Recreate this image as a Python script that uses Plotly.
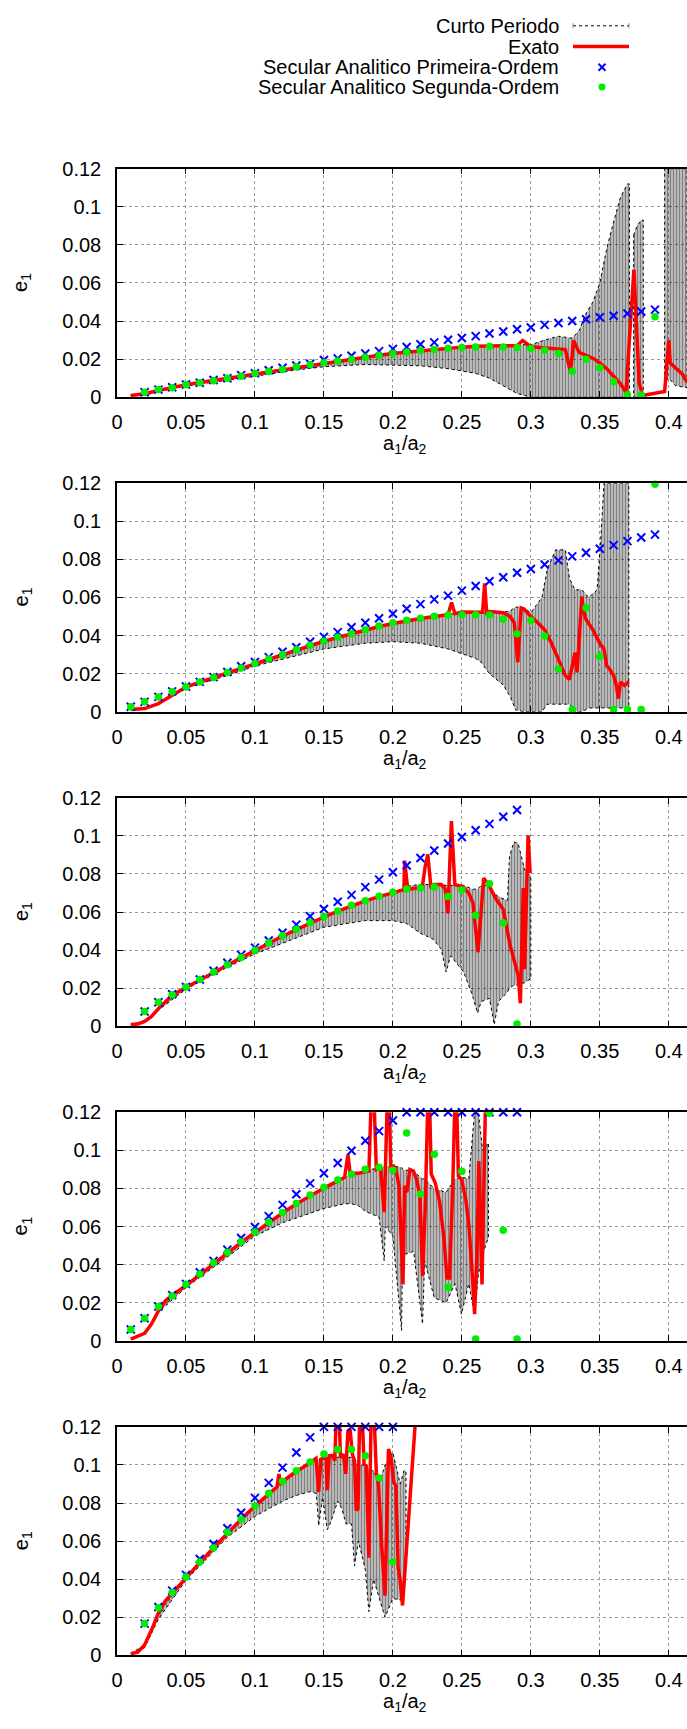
import plotly.graph_objects as go

# ---------------------------------------------------------------------------
# Data: e1 versus a1/a2 for five configurations
# ---------------------------------------------------------------------------

# Panel 1
P1_SEC_X = [0.02, 0.03, 0.04, 0.05, 0.06, 0.07, 0.08, 0.09, 0.10, 0.11, 0.12, 0.13, 0.14,
            0.15, 0.16, 0.17, 0.18, 0.19, 0.20, 0.21, 0.22, 0.23, 0.24, 0.25, 0.26, 0.27,
            0.28, 0.29, 0.30, 0.31, 0.32, 0.33, 0.34, 0.35, 0.36, 0.37, 0.38, 0.39]
P1_FIRST = [0.0026, 0.0040, 0.0052, 0.0067, 0.0076, 0.0090, 0.0100, 0.0116, 0.0126, 0.0142,
            0.0155, 0.0167, 0.0176, 0.0195, 0.0204, 0.0218, 0.0230, 0.0242, 0.0254, 0.0264,
            0.0278, 0.0288, 0.0302, 0.0311, 0.0321, 0.0335, 0.0345, 0.0357, 0.0366, 0.0380,
            0.0390, 0.0400, 0.0409, 0.0420, 0.0428, 0.0440, 0.0450, 0.0460]
P1_SECOND = [0.0026, 0.0040, 0.0050, 0.0066, 0.0076, 0.0086, 0.0100, 0.0110, 0.0124, 0.0135,
             0.0145, 0.0160, 0.0171, 0.0181, 0.0190, 0.0200, 0.0210, 0.0220, 0.0230, 0.0237,
             0.0245, 0.0250, 0.0257, 0.0261, 0.0264, 0.0266, 0.0264, 0.0261, 0.0256, 0.0247,
             0.0230, 0.0136, 0.0200, 0.0155, 0.0081, 0.0012, 0.0012, 0.0423]
P1_EXATO_X = [0.010, 0.020, 0.030, 0.040, 0.050, 0.060, 0.070, 0.080, 0.090, 0.100, 0.110,
              0.120, 0.130, 0.140, 0.150, 0.160, 0.170, 0.180, 0.190, 0.200, 0.210, 0.220,
              0.230, 0.240, 0.250, 0.260, 0.270, 0.280, 0.290, 0.294, 0.300, 0.310, 0.320,
              0.325, 0.3288, 0.331, 0.335, 0.340, 0.345, 0.350, 0.355, 0.360, 0.365, 0.369,
              0.3747, 0.3785, 0.381, 0.397, 0.400, 0.401, 0.405, 0.410, 0.413]
P1_EXATO_Y = [0.0009, 0.0018, 0.0035, 0.0052, 0.0066, 0.0077, 0.0088, 0.0100, 0.0112, 0.0124,
              0.0135, 0.0146, 0.0158, 0.0169, 0.0180, 0.0190, 0.0200, 0.0212, 0.0220, 0.0230,
              0.0237, 0.0245, 0.0252, 0.0258, 0.0263, 0.0267, 0.0270, 0.0270, 0.0270, 0.0298,
              0.0265, 0.0260, 0.0255, 0.0250, 0.0130, 0.0298, 0.0235, 0.0220, 0.0205, 0.0180,
              0.0150, 0.0110, 0.0070, 0.0026, 0.0670, 0.0078, 0.0009, 0.0030, 0.0300, 0.0180,
              0.0155, 0.0120, 0.0080]
P1_CP_X = [0.010, 0.020, 0.030, 0.050, 0.080, 0.100, 0.130, 0.150, 0.180, 0.200, 0.220, 0.240,
           0.260, 0.270, 0.280, 0.290, 0.300, 0.310, 0.320, 0.330, 0.335, 0.340, 0.345, 0.350,
           0.355, 0.360, 0.365, 0.370, 0.3715, None,
           0.3745, 0.3770, 0.3800, 0.3815, None,
           0.397, 0.400, 0.405, 0.4132]
P1_CP_LO = [0.0008, 0.0010, 0.0030, 0.0058, 0.0090, 0.0110, 0.0143, 0.0160, 0.0172, 0.0170,
            0.0165, 0.0150, 0.0125, 0.0100, 0.0060, 0.0020, 0.0, 0.0, 0.0, 0.0, 0.0, 0.0, 0.0,
            0.0, 0.0, 0.0, 0.0, 0.0, 0.0, None,
            0.0, 0.0, 0.0, 0.0, None,
            0.008, 0.010, 0.006, 0.005]
P1_CP_HI = [0.0012, 0.0018, 0.0038, 0.0068, 0.0102, 0.0126, 0.0160, 0.0182, 0.0212, 0.0232,
            0.0248, 0.0260, 0.0268, 0.0272, 0.0274, 0.0276, 0.0275, 0.0300, 0.0320, 0.0310,
            0.0350, 0.0440, 0.0500, 0.0600, 0.0780, 0.0920, 0.1050, 0.1120, 0.1120, None,
            0.085, 0.090, 0.093, 0.093, None,
            0.12, 0.12, 0.12, 0.12]

# Panel 2
P2_SEC_X = [0.01, 0.02, 0.03, 0.04, 0.05, 0.06, 0.07, 0.08, 0.09, 0.10, 0.11, 0.12, 0.13,
            0.14, 0.15, 0.16, 0.17, 0.18, 0.19, 0.20, 0.21, 0.22, 0.23, 0.24, 0.25, 0.26,
            0.27, 0.28, 0.29, 0.30, 0.31, 0.32, 0.33, 0.34, 0.35, 0.36, 0.37, 0.38, 0.39]
P2_FIRST = [0.0026, 0.0052, 0.0078, 0.0107, 0.0133, 0.0157, 0.0182, 0.0209, 0.0239, 0.0261,
            0.0287, 0.0315, 0.0339, 0.0368, 0.0393, 0.0418, 0.0444, 0.0467, 0.0491, 0.0515,
            0.0541, 0.0565, 0.0590, 0.0610, 0.0636, 0.0660, 0.0685, 0.0706, 0.0730, 0.0750,
            0.0773, 0.0795, 0.0816, 0.0835, 0.0856, 0.0875, 0.0896, 0.0915, 0.0930]
P2_SECOND = [0.0026, 0.0052, 0.0078, 0.0105, 0.0130, 0.0156, 0.0180, 0.0206, 0.0230, 0.0254,
             0.0278, 0.0301, 0.0325, 0.0349, 0.0370, 0.0391, 0.0410, 0.0431, 0.0450, 0.0467,
             0.0481, 0.0491, 0.0501, 0.0508, 0.0510, 0.0510, 0.0508, 0.0486, 0.0410, 0.0479,
             0.0398, 0.0225, 0.0012, 0.0546, 0.0290, 0.0012, 0.0012, 0.0012, 0.1195]
P2_EXATO_X = [0.010, 0.020, 0.030, 0.040, 0.050, 0.060, 0.070, 0.080, 0.090, 0.100, 0.110,
              0.120, 0.130, 0.140, 0.150, 0.160, 0.170, 0.180, 0.190, 0.200, 0.210, 0.220,
              0.230, 0.240, 0.2425, 0.245, 0.250, 0.260, 0.265, 0.2665, 0.268, 0.270, 0.280,
              0.285, 0.288, 0.2905, 0.293, 0.295, 0.300, 0.305, 0.310, 0.315, 0.320, 0.325,
              0.328, 0.332, 0.3335, 0.337, 0.338, 0.340, 0.345, 0.350, 0.353, 0.355, 0.357,
              0.360, 0.362, 0.3635, 0.365, 0.368, 0.371]
P2_EXATO_Y = [0.0012, 0.0017, 0.0043, 0.0086, 0.0130, 0.0156, 0.0178, 0.0204, 0.0228, 0.0252,
              0.0277, 0.0300, 0.0325, 0.0348, 0.0370, 0.0390, 0.0410, 0.0430, 0.0448, 0.0463,
              0.0477, 0.0490, 0.0500, 0.0510, 0.0574, 0.0515, 0.0524, 0.0524, 0.0522, 0.0674,
              0.0520, 0.0526, 0.0520, 0.0500, 0.0467, 0.0260, 0.0545, 0.0540, 0.0500, 0.0467,
              0.0430, 0.0360, 0.0277, 0.0190, 0.0170, 0.0310, 0.0207, 0.0605, 0.0536, 0.0484,
              0.0430, 0.0360, 0.0330, 0.0242, 0.0225, 0.0190, 0.0138, 0.0069, 0.0156, 0.0138,
              0.0159]
P2_CP_X = [0.010, 0.020, 0.030, 0.040, 0.050, 0.080, 0.100, 0.150, 0.180, 0.200, 0.220, 0.240,
           0.260, 0.264, 0.270, 0.275, 0.280, 0.285, 0.289, 0.295, 0.300, 0.308, 0.312, 0.318,
           0.325, 0.328, 0.332, 0.337, 0.342, 0.348, 0.351, 0.353, 0.371]
P2_CP_LO = [0.0010, 0.0015, 0.0040, 0.0082, 0.0125, 0.0190, 0.0240, 0.0330, 0.0360, 0.0368,
            0.0360, 0.0330, 0.0280, 0.0260, 0.0200, 0.0170, 0.0140, 0.0080, 0.0010, 0.0, 0.0,
            0.0, 0.0040, 0.0040, 0.0040, 0.0040, 0.0, 0.0, 0.0020, 0.0020, 0.0020, 0.0020,
            0.0020]
P2_CP_HI = [0.0014, 0.0020, 0.0045, 0.0090, 0.0132, 0.0206, 0.0254, 0.0372, 0.0432, 0.0465,
            0.0492, 0.0512, 0.0524, 0.0524, 0.0526, 0.0525, 0.0522, 0.0530, 0.0550, 0.0545,
            0.0520, 0.0600, 0.0750, 0.0850, 0.0850, 0.0700, 0.0640, 0.0640, 0.0600, 0.0640,
            0.0940, 0.1200, 0.1200]

# Panel 3
P3_SEC_X = [0.02, 0.03, 0.04, 0.05, 0.06, 0.07, 0.08, 0.09, 0.10, 0.11, 0.12, 0.13, 0.14,
            0.15, 0.16, 0.17, 0.18, 0.19, 0.20, 0.21, 0.22, 0.23, 0.24, 0.25, 0.26, 0.27,
            0.28, 0.29]
P3_FIRST = [0.0078, 0.0126, 0.0168, 0.0206, 0.0246, 0.0292, 0.0334, 0.0375, 0.0413, 0.0451,
            0.0491, 0.0534, 0.0578, 0.0616, 0.0654, 0.0690, 0.0731, 0.0770, 0.0809, 0.0844,
            0.0884, 0.0923, 0.0960, 0.0994, 0.1029, 0.1063, 0.1100, 0.1136]
P3_SECOND = [0.0078, 0.0126, 0.0166, 0.0206, 0.0246, 0.0285, 0.0323, 0.0361, 0.0399, 0.0439,
             0.0476, 0.0510, 0.0545, 0.0576, 0.0605, 0.0635, 0.0659, 0.0683, 0.0704, 0.0721,
             0.0726, 0.0731, 0.0681, 0.0716, 0.0583, 0.0749, 0.0543, 0.0012]
P3_EXATO_X = [0.010, 0.015, 0.020, 0.025, 0.030, 0.035, 0.040, 0.050, 0.060, 0.070, 0.080,
              0.090, 0.100, 0.110, 0.120, 0.130, 0.140, 0.150, 0.160, 0.170, 0.180, 0.190,
              0.200, 0.205, 0.208, 0.2085, 0.2108, 0.215, 0.2212, 0.2234, 0.2253, 0.2275,
              0.230, 0.235, 0.238, 0.2399, 0.2424, 0.2449, 0.250, 0.255, 0.258, 0.2617,
              0.2658, 0.270, 0.275, 0.280, 0.285, 0.2908, 0.2924, 0.2945, 0.2955, 0.298,
              0.2995]
P3_EXATO_Y = [0.0009, 0.0012, 0.0026, 0.0052, 0.0092, 0.0130, 0.0164, 0.0204, 0.0244, 0.0284,
              0.0322, 0.0360, 0.0398, 0.0437, 0.0474, 0.0508, 0.0543, 0.0574, 0.0605, 0.0633,
              0.0659, 0.0681, 0.0700, 0.0714, 0.0718, 0.0870, 0.0718, 0.0723, 0.0726, 0.0839,
              0.0903, 0.0735, 0.0744, 0.0744, 0.0720, 0.0593, 0.1077, 0.0744, 0.0735, 0.0700,
              0.0648, 0.0389, 0.0778, 0.0735, 0.0666, 0.0614, 0.0424, 0.0268, 0.0121, 0.0726,
              0.0300, 0.1003, 0.0804]
P3_CP_X = [0.010, 0.020, 0.030, 0.050, 0.080, 0.100, 0.150, 0.180, 0.200, 0.210, 0.2196,
           0.229, 0.235, 0.2386, 0.2418, 0.2513, 0.2576, 0.2614, 0.264, 0.270, 0.2734,
           0.2766, 0.283, 0.2845, 0.2877, 0.2908, 0.2956, 0.300]
P3_CP_LO = [0.0008, 0.0022, 0.0085, 0.0195, 0.0310, 0.0380, 0.0520, 0.0555, 0.0555, 0.0540,
            0.0490, 0.0458, 0.0406, 0.0285, 0.0370, 0.0285, 0.0164, 0.0069, 0.0130, 0.0147,
            0.0009, 0.0130, 0.0180, 0.0200, 0.0216, 0.0216, 0.0230, 0.0250]
P3_CP_HI = [0.0010, 0.0028, 0.0092, 0.0204, 0.0322, 0.0398, 0.0574, 0.0659, 0.0700, 0.0735,
            0.0745, 0.0745, 0.0744, 0.0740, 0.0740, 0.0740, 0.0720, 0.0720, 0.0740, 0.0740,
            0.0700, 0.0680, 0.0660, 0.0890, 0.0968, 0.0960, 0.0820, 0.0787]

# Panel 4
P4_SEC_X = [0.01, 0.02, 0.03, 0.04, 0.05, 0.06, 0.07, 0.08, 0.09, 0.10, 0.11, 0.12, 0.13,
            0.14, 0.15, 0.16, 0.17, 0.18, 0.19, 0.20, 0.21, 0.22, 0.23, 0.24, 0.25, 0.26,
            0.27, 0.28, 0.29]
P4_FIRST = [0.0060, 0.0119, 0.0180, 0.0240, 0.0299, 0.0360, 0.0420, 0.0479, 0.0540, 0.0598,
            0.0655, 0.0714, 0.0770, 0.0827, 0.0880, 0.0934, 0.0998, 0.1051, 0.1101, 0.1157,
            0.1200, 0.1200, 0.1200, 0.1200, 0.1200, 0.1200, 0.1200, 0.1200, 0.1200]
P4_SECOND = [0.0060, 0.0119, 0.0180, 0.0235, 0.0296, 0.0351, 0.0410, 0.0465, 0.0520, 0.0571,
             0.0624, 0.0674, 0.0721, 0.0766, 0.0806, 0.0844, 0.0875, 0.0901, 0.0911, 0.0896,
             0.1091, 0.0771, 0.0980, 0.0282, 0.0890, 0.0010, 0.1195, 0.0581, 0.0010]
P4_EXATO_X = [0.010, 0.020, 0.025, 0.030, 0.035, 0.040, 0.050, 0.060, 0.070, 0.080, 0.090,
              0.100, 0.110, 0.120, 0.130, 0.140, 0.150, 0.160, 0.165, 0.1674, 0.169, 0.175,
              0.1826, 0.1842, 0.1864, 0.188, 0.191, 0.1937, 0.1959, 0.1975, 0.1984, 0.2006,
              0.2022, 0.2044, 0.2063, 0.2073, 0.2085, 0.2101, 0.2123, 0.2149, 0.2171, 0.2196,
              0.2215, 0.2234, 0.2253, 0.2266, 0.2278, 0.2307, 0.2339, 0.2370, 0.2392, 0.2411,
              0.2434, 0.2449, 0.2462, 0.2475, 0.2497, 0.2528, 0.2551, 0.2566, 0.2582, 0.2592,
              0.2608, 0.2623, 0.2646, 0.2671, 0.2693]
P4_EXATO_Y = [0.0009, 0.0040, 0.0088, 0.0157, 0.0209, 0.0240, 0.0290, 0.0348, 0.0406, 0.0462,
              0.0517, 0.0569, 0.0621, 0.0671, 0.0719, 0.0763, 0.0802, 0.0840, 0.0858, 0.0979,
              0.0880, 0.0880, 0.0892, 0.1250, 0.1250, 0.0900, 0.0910, 0.0676, 0.1250, 0.1250,
              0.0918, 0.0918, 0.0900, 0.0814, 0.0434, 0.0296, 0.0814, 0.0780, 0.0900, 0.0892,
              0.0849, 0.0763, 0.0339, 0.0692, 0.1250, 0.1250, 0.0875, 0.0830, 0.0728, 0.0538,
              0.0330, 0.0330, 0.0814, 0.1250, 0.1250, 0.0866, 0.0849, 0.0745, 0.0607, 0.0469,
              0.0278, 0.0140, 0.0420, 0.0944, 0.0296, 0.1250, 0.1250]
P4_CP_X = [0.010, 0.020, 0.030, 0.050, 0.080, 0.100, 0.120, 0.150, 0.165, 0.170, 0.175, 0.180,
           0.190, 0.1937, 0.1945, 0.200, 0.2063, 0.207, 0.215, 0.2215, 0.223, 0.230, 0.2386,
           0.245, 0.2497, 0.255, 0.2592, 0.262, 0.265, 0.2693]
P4_CP_LO = [0.0008, 0.0035, 0.0150, 0.0280, 0.0440, 0.0550, 0.0620, 0.0695, 0.0720, 0.0720,
            0.0710, 0.0680, 0.0650, 0.0420, 0.0600, 0.0550, 0.0054, 0.0450, 0.0470, 0.0088,
            0.0420, 0.0226, 0.0200, 0.0300, 0.0140, 0.0300, 0.0140, 0.0350, 0.0450, 0.0546]
P4_CP_HI = [0.0010, 0.0042, 0.0160, 0.0292, 0.0462, 0.0569, 0.0671, 0.0802, 0.0858, 0.0880,
            0.0880, 0.0892, 0.0910, 0.0910, 0.0915, 0.0918, 0.0910, 0.0900, 0.0890, 0.0850,
            0.0850, 0.0800, 0.0780, 0.0850, 0.0860, 0.0850, 0.1200, 0.1200, 0.1000, 0.1040]

# Panel 5
P5_SEC_X = [0.02, 0.03, 0.04, 0.05, 0.06, 0.07, 0.08, 0.09, 0.10, 0.11, 0.12, 0.13, 0.14,
            0.15, 0.16, 0.17, 0.18, 0.19, 0.20]
P5_FIRST = [0.0167, 0.0254, 0.0340, 0.0423, 0.0506, 0.0585, 0.0668, 0.0749, 0.0827, 0.0906,
            0.0986, 0.1065, 0.1145, 0.1200, 0.1200, 0.1200, 0.1200, 0.1200, 0.1200]
P5_SECOND = [0.0167, 0.0250, 0.0330, 0.0411, 0.0490, 0.0565, 0.0646, 0.0715, 0.0786, 0.0851,
             0.0915, 0.0970, 0.1015, 0.1057, 0.1081, 0.1081, 0.1048, 0.0931, 0.0492]
P5_EXATO_X = [0.010, 0.015, 0.020, 0.025, 0.030, 0.035, 0.040, 0.050, 0.060, 0.070, 0.080,
              0.090, 0.100, 0.110, 0.1160, 0.1174, 0.1185, 0.120, 0.125, 0.130, 0.135, 0.140,
              0.1443, 0.1462, 0.1478, 0.150, 0.1516, 0.1525, 0.1538, 0.1563, 0.1579, 0.1589,
              0.1611, 0.1620, 0.1642, 0.1658, 0.1674, 0.1690, 0.1706, 0.1722, 0.1734, 0.1747,
              0.1759, 0.1778, 0.1791, 0.1807, 0.1826, 0.1842, 0.1864, 0.1880, 0.1896, 0.1918,
              0.1943, 0.1968, 0.1984, 0.2006, 0.2022, 0.2038, 0.2053, 0.2070, 0.2165]
P5_EXATO_Y = [0.0009, 0.0017, 0.0055, 0.0133, 0.0223, 0.0285, 0.0326, 0.0409, 0.0487, 0.0565,
              0.0642, 0.0715, 0.0784, 0.0850, 0.0885, 0.0953, 0.0895, 0.0913, 0.0940, 0.0967,
              0.0988, 0.1013, 0.1034, 0.0858, 0.1030, 0.1039, 0.1030, 0.0867, 0.1048, 0.1050,
              0.1022, 0.1250, 0.1250, 0.1039, 0.1057, 0.0953, 0.1177, 0.1186, 0.1057, 0.1022,
              0.0763, 0.0770, 0.1250, 0.1250, 0.1005, 0.0995, 0.0513, 0.1250, 0.1250, 0.0962,
              0.0893, 0.0582, 0.0314, 0.1083, 0.1048, 0.0910, 0.0890, 0.0461, 0.0392, 0.0262,
              0.1250]
P5_CP_X = [0.010, 0.020, 0.030, 0.050, 0.080, 0.100, 0.120, 0.130, 0.140, 0.1445, 0.1462,
           0.149, 0.1525, 0.155, 0.160, 0.163, 0.166, 0.170, 0.1722, 0.175, 0.180, 0.1826,
           0.186, 0.190, 0.1943, 0.200, 0.2053, 0.208, 0.2095]
P5_CP_LO = [0.0008, 0.0040, 0.0190, 0.0395, 0.0620, 0.0730, 0.0810, 0.0840, 0.0860, 0.0850,
            0.0680, 0.0830, 0.0660, 0.0700, 0.0810, 0.0770, 0.0690, 0.0690, 0.0470, 0.0600,
            0.0450, 0.0230, 0.0400, 0.0300, 0.0200, 0.0300, 0.0290, 0.0400, 0.0500]
P5_CP_HI = [0.0010, 0.0055, 0.0223, 0.0409, 0.0642, 0.0784, 0.0913, 0.0967, 0.1013, 0.1034,
            0.1030, 0.1039, 0.1040, 0.1045, 0.1040, 0.1040, 0.1040, 0.1040, 0.1000, 0.1000,
            0.1000, 0.0970, 0.0970, 0.0900, 0.1000, 0.1065, 0.0900, 0.0970, 0.0970]

X_TICKS = [0, 0.05, 0.1, 0.15, 0.2, 0.25, 0.3, 0.35, 0.4]
Y_TICKS = [0, 0.02, 0.04, 0.06, 0.08, 0.1, 0.12]
LEGEND_NAMES = ["Curto Periodo", "Exato", "Secular Analitico Primeira-Ordem",
                "Secular Analitico Segunda-Ordem"]

# ---------------------------------------------------------------------------
# Layout constants (pixels)
# ---------------------------------------------------------------------------
FONT = "Liberation Sans, Arial, Helvetica, sans-serif"
FIG_W, FIG_H = 687, 1729
LEFT = 117
PLOT_W = FIG_W - LEFT
PANEL_TOP0 = 159.7
PANEL_STEP = 318.6
PANEL_H = 231.5
X_MAX = 0.4132

RED = "#ff0000"
BLUE = "#0000ff"
GREEN = "#00ee00"


def px_x(px):
    return (px - LEFT) / PLOT_W


def px_y(py):
    return 1 - py / FIG_H


def band_path(xs, lo, hi):
    """Closed outline(s) of the short-period band; None splits separate pieces."""
    out_x, out_y, seg = [], [], []
    for x, l, h in zip(list(xs) + [None], list(lo) + [None], list(hi) + [None]):
        if x is None:
            if seg:
                sx = [s[0] for s in seg]
                sl = [s[1] for s in seg]
                sh = [s[2] for s in seg]
                out_x += sx + sx[::-1] + [sx[0], None]
                out_y += sh + sl[::-1] + [sh[0], None]
            seg = []
        else:
            seg.append((x, l, h))
    return out_x, out_y


panels = [
    (P1_SEC_X, P1_FIRST, P1_SECOND, P1_EXATO_X, P1_EXATO_Y, P1_CP_X, P1_CP_LO, P1_CP_HI),
    (P2_SEC_X, P2_FIRST, P2_SECOND, P2_EXATO_X, P2_EXATO_Y, P2_CP_X, P2_CP_LO, P2_CP_HI),
    (P3_SEC_X, P3_FIRST, P3_SECOND, P3_EXATO_X, P3_EXATO_Y, P3_CP_X, P3_CP_LO, P3_CP_HI),
    (P4_SEC_X, P4_FIRST, P4_SECOND, P4_EXATO_X, P4_EXATO_Y, P4_CP_X, P4_CP_LO, P4_CP_HI),
    (P5_SEC_X, P5_FIRST, P5_SECOND, P5_EXATO_X, P5_EXATO_Y, P5_CP_X, P5_CP_LO, P5_CP_HI),
]

fig = go.Figure()
layout_axes = {}
annotations = []

for i, (sx, first, second, ex, ey, cx, clo, chi) in enumerate(panels):
    n = "" if i == 0 else str(i + 1)
    xref, yref = "x" + n, "y" + n

    bx, by = band_path(cx, clo, chi)
    fig.add_trace(go.Scatter(
        x=bx, y=by, xaxis=xref, yaxis=yref, mode="lines", fill="toself",
        fillcolor="rgba(0,0,0,0)",
        fillpattern=dict(shape="|", fgcolor="black", size=3, solidity=0.7),
        line=dict(color="black", width=1, dash="dot"),
        name=LEGEND_NAMES[0], hoverinfo="skip"))
    fig.add_trace(go.Scatter(
        x=ex, y=ey, xaxis=xref, yaxis=yref, mode="lines",
        line=dict(color=RED, width=3.5), name=LEGEND_NAMES[1]))
    fig.add_trace(go.Scatter(
        x=sx, y=first, xaxis=xref, yaxis=yref, mode="markers", cliponaxis=False,
        marker=dict(symbol="x-thin", size=8, color=BLUE, line=dict(width=2, color=BLUE)),
        name=LEGEND_NAMES[2]))
    fig.add_trace(go.Scatter(
        x=sx, y=second, xaxis=xref, yaxis=yref, mode="markers", cliponaxis=False,
        marker=dict(symbol="circle", size=7.5, color=GREEN, line=dict(width=0)),
        name=LEGEND_NAMES[3]))

    top = PANEL_TOP0 + i * PANEL_STEP
    bottom = top + PANEL_H
    layout_axes["xaxis" + n] = dict(
        domain=[0, 1], anchor=yref, range=[0, X_MAX],
        tickvals=X_TICKS, ticktext=[f"{v:g}" for v in X_TICKS],
        ticks="inside", ticklen=6, tickwidth=1, tickcolor="black",
        showline=True, linecolor="black", linewidth=1.5, mirror="ticks",
        showgrid=True, gridcolor="#9a9a9a", griddash="dot", gridwidth=1,
        zeroline=False, tickfont=dict(family=FONT, size=20, color="black"),
        ticklabelstandoff=6)
    layout_axes["yaxis" + n] = dict(
        domain=[px_y(bottom), px_y(top)], anchor=xref, range=[0, 0.12],
        tickvals=Y_TICKS, ticktext=[f"{v:g}" for v in Y_TICKS],
        ticks="inside", ticklen=6, tickwidth=1, tickcolor="black",
        showline=True, linecolor="black", linewidth=1.5, mirror=False,
        showgrid=True, gridcolor="#9a9a9a", griddash="dot", gridwidth=1,
        zeroline=False, tickfont=dict(family=FONT, size=20, color="black"),
        ticklabelstandoff=10)

    annotations.append(dict(
        text="a<sub>1</sub>/a<sub>2</sub>", xref="paper", yref="paper",
        x=px_x(405), y=px_y(bottom + 48), xanchor="center", yanchor="middle",
        showarrow=False, font=dict(family=FONT, size=20, color="black")))
    annotations.append(dict(
        text="e<sub>1</sub>", xref="paper", yref="paper", textangle=-90,
        x=px_x(22), y=px_y((top + bottom) / 2), xanchor="center", yanchor="middle",
        showarrow=False, font=dict(family=FONT, size=20, color="black")))

# Key in the top-right corner: right-aligned labels with samples on their right
LEGEND_ROWS = [15, 36, 57, 77]
shapes = []
for name, row in zip(LEGEND_NAMES, LEGEND_ROWS):
    annotations.append(dict(
        text=name, xref="paper", yref="paper", x=px_x(561), y=px_y(row),
        xanchor="right", yanchor="middle", showarrow=False,
        font=dict(family=FONT, size=20, color="black")))

x0, x1, xm = px_x(573), px_x(629), px_x(602)
shapes.append(dict(type="line", xref="paper", yref="paper", x0=x0, x1=x1,
                   y0=px_y(15), y1=px_y(15), line=dict(color="black", width=1, dash="dot")))
for xe in (x0, x1):
    shapes.append(dict(type="line", xref="paper", yref="paper", x0=xe, x1=xe,
                       y0=px_y(12.5), y1=px_y(17.5), line=dict(color="#888888", width=1)))
shapes.append(dict(type="line", xref="paper", yref="paper", x0=x0, x1=x1,
                   y0=px_y(36), y1=px_y(36), line=dict(color=RED, width=3.5)))
shapes.append(dict(type="line", xref="paper", yref="paper", x0=px_x(598.5), x1=px_x(605.5),
                   y0=px_y(53.5), y1=px_y(60.5), line=dict(color=BLUE, width=2)))
shapes.append(dict(type="line", xref="paper", yref="paper", x0=px_x(598.5), x1=px_x(605.5),
                   y0=px_y(60.5), y1=px_y(53.5), line=dict(color=BLUE, width=2)))
shapes.append(dict(type="circle", xref="paper", yref="paper", x0=px_x(598.5), x1=px_x(605.5),
                   y0=px_y(80.5), y1=px_y(73.5), fillcolor=GREEN, line=dict(width=0)))

fig.update_layout(
    width=FIG_W, height=FIG_H,
    margin=dict(l=LEFT, r=0, t=0, b=0),
    paper_bgcolor="white", plot_bgcolor="white",
    showlegend=False,
    font=dict(family=FONT, size=20, color="black"),
    annotations=annotations, shapes=shapes,
    **layout_axes,
)

fig.write_html("out.html")
